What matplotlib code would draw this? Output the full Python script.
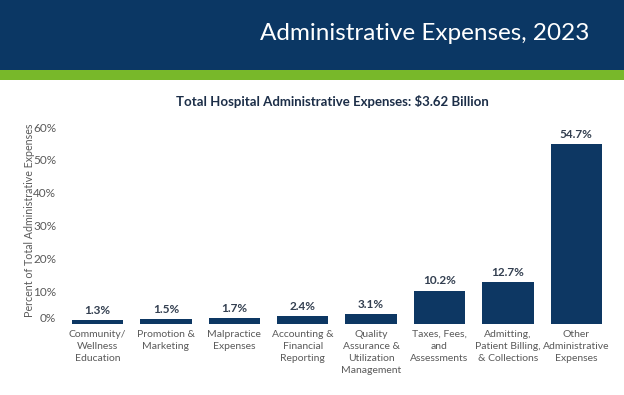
import matplotlib
matplotlib.use("Agg")
import matplotlib.pyplot as plt
from matplotlib.patches import Rectangle
import matplotlib.transforms as mtransforms

categories = ["Community/\nWellness\nEducation", "Promotion &\nMarketing", "Malpractice\nExpenses",
              "Accounting &\nFinancial\nReporting", "Quality\nAssurance &\nUtilization\nManagement",
              "Taxes, Fees,\nand\nAssessments", "Admitting,\nPatient Billing,\n& Collections",
              "Other\nAdministrative\nExpenses"]
values = [1.3, 1.5, 1.7, 2.4, 3.1, 10.2, 12.7, 54.7]
yticks = [0, 10, 20, 30, 40, 50, 60]
ytick_labels = ["0%", "10%", "20%", "30%", "40%", "50%", "60%"]

plt.rcParams['font.family'] = ['Lato', 'DejaVu Sans']

W, H = 624, 395
fig = plt.figure(figsize=(W / 100, H / 100), dpi=100)

navy = "#0b3764"
green = "#78b82a"
bar_color = "#0d3763"
gray = "#5a5a5a"

# banner
fig.patches.append(Rectangle((0, 1 - 70 / H), 1, 70 / H, transform=fig.transFigure,
                             facecolor=navy, edgecolor="none", zorder=0))
fig.patches.append(Rectangle((0, 1 - 80 / H), 1, 10 / H, transform=fig.transFigure,
                             facecolor=green, edgecolor="none", zorder=0))
fig.text(425 / W, 1 - 34 / H, "Administrative Expenses, 2023", color="white",
         fontsize=17.5, ha="center", va="center")
fig.text(332 / W, 1 - 102 / H, "Total Hospital Administrative Expenses: $3.62 Billion",
         color="#1c2e48", fontsize=9.5, fontweight="bold", ha="center", va="center")

left, right = 63.3, 610.5
bottom, top = 324, 127
ax = fig.add_axes([left / W, 1 - bottom / H, (right - left) / W, (bottom - top) / H])
x = list(range(len(values)))
ax.bar(x, values, width=0.75, color=bar_color)
ax.set_xlim(-0.5, len(values) - 0.5)
ax.set_ylim(0, 60)
for s in ax.spines.values():
    s.set_visible(False)
ax.set_yticks(yticks)
ax.set_yticklabels(ytick_labels, color=gray, fontsize=8.5)
ax.tick_params(axis="y", length=0, pad=5)
ax.set_xticks(x)
ax.set_xticklabels(categories, color=gray, fontsize=7.5, linespacing=1.45)
ax.tick_params(axis="x", length=0, pad=4)
# shift 0% label up a bit as in the reference
lbl0 = ax.get_yticklabels()[0]
lbl0.set_transform(lbl0.get_transform() + mtransforms.ScaledTranslation(0, 7 / 100, fig.dpi_scale_trans))

for xi, v in zip(x, values):
    ax.annotate(f"{v:.1f}%", (xi, v), xytext=(0, 3), textcoords="offset points",
                ha="center", va="bottom", fontsize=8.5, fontweight="bold", color="#333f50",
                annotation_clip=False)

fig.text(30 / W, 1 - 220 / H, "Percent of Total Administrative Expenses", rotation=90,
         color=gray, fontsize=7.7, ha="center", va="center")

fig.savefig("out.png", dpi=100)
